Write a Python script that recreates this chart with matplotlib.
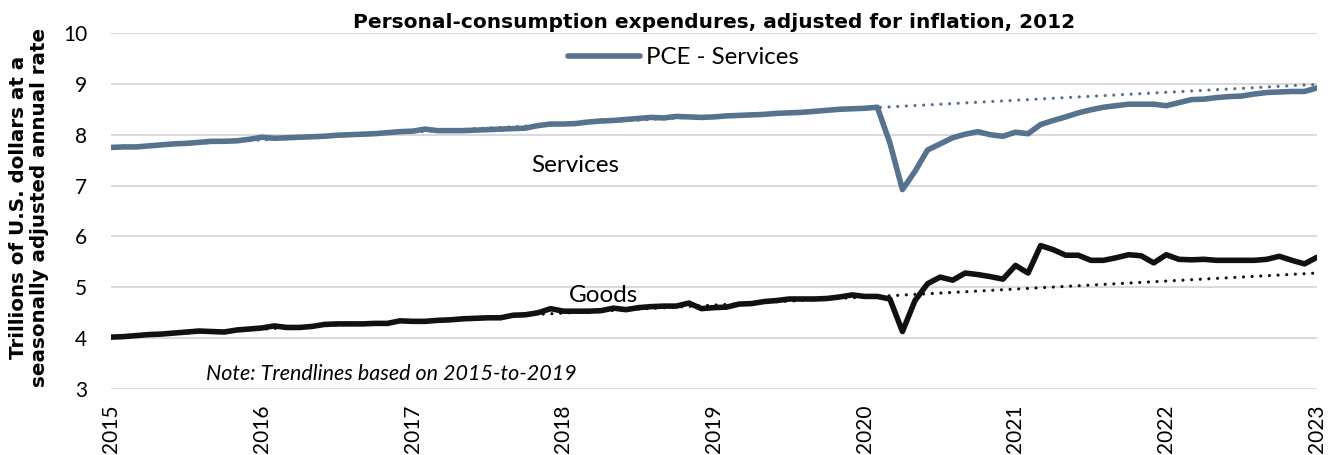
import numpy as np
import matplotlib
matplotlib.use("Agg")
import matplotlib.pyplot as plt

# monthly values, Jan 2015 .. Jan 2023 (trillions, chained 2012 $)
services = [7.75, 7.76, 7.76, 7.78, 7.80, 7.82, 7.83, 7.85, 7.87, 7.87, 7.88, 7.91,
            7.95, 7.93, 7.94, 7.95, 7.96, 7.97, 7.99, 8.00, 8.01, 8.02, 8.04, 8.06,
            8.07, 8.11, 8.08, 8.08, 8.08, 8.09, 8.10, 8.11, 8.12, 8.13, 8.18, 8.21,
            8.21, 8.22, 8.25, 8.27, 8.28, 8.30, 8.32, 8.34, 8.33, 8.36, 8.35, 8.34,
            8.35, 8.37, 8.38, 8.39, 8.40, 8.42, 8.43, 8.44, 8.46, 8.48, 8.50, 8.51,
            8.52, 8.54, 7.84, 6.92, 7.28, 7.70, 7.82, 7.94, 8.01, 8.06, 8.00, 7.97,
            8.05, 8.02, 8.20, 8.28, 8.35, 8.43, 8.49, 8.54, 8.57, 8.60, 8.60, 8.60,
            8.57, 8.63, 8.69, 8.70, 8.73, 8.75, 8.76, 8.80, 8.83, 8.84, 8.85, 8.85,
            8.92]
goods = [4.02, 4.03, 4.05, 4.07, 4.08, 4.10, 4.12, 4.14, 4.13, 4.12, 4.16, 4.18,
         4.20, 4.24, 4.21, 4.21, 4.23, 4.27, 4.28, 4.28, 4.28, 4.29, 4.29, 4.34,
         4.33, 4.33, 4.35, 4.36, 4.38, 4.39, 4.40, 4.40, 4.45, 4.46, 4.50, 4.58,
         4.53, 4.53, 4.53, 4.54, 4.59, 4.56, 4.60, 4.62, 4.63, 4.63, 4.69, 4.58,
         4.60, 4.61, 4.67, 4.68, 4.72, 4.74, 4.77, 4.77, 4.77, 4.78, 4.81, 4.85,
         4.82, 4.82, 4.77, 4.13, 4.74, 5.07, 5.20, 5.14, 5.28, 5.25, 5.21, 5.16,
         5.43, 5.28, 5.82, 5.74, 5.63, 5.63, 5.53, 5.53, 5.58, 5.64, 5.62, 5.48,
         5.64, 5.55, 5.54, 5.55, 5.53, 5.53, 5.53, 5.53, 5.55, 5.61, 5.53, 5.46,
         5.59]
trend_years = [2015, 2023]
services_trend = [7.74, 8.99]
goods_trend = [4.02, 5.28]
years = list(range(2015, 2024))

x = 2015 + np.arange(len(services)) / 12.0

svc_color = "#56728E"
gds_color = "#111111"
dots = (0, (0.01, 2.7))
plt.rcParams["font.family"] = ["Lato", "DejaVu Sans"]

fig = plt.figure(figsize=(13.3, 4.55), dpi=100)
ax = fig.add_axes([111 / 1330, 66 / 455, 1206 / 1330, 356 / 455])

ax.plot(trend_years, services_trend, color=svc_color, lw=2.3, ls=dots,
        dash_capstyle="round", zorder=2)
ax.plot(trend_years, goods_trend, color=gds_color, lw=2.3, ls=dots,
        dash_capstyle="round", zorder=2)
ax.plot(x, services, color=svc_color, lw=4, label="PCE - Services",
        solid_capstyle="round", zorder=3)
ax.plot(x, goods, color=gds_color, lw=4, solid_capstyle="round", zorder=3)

ax.set_xlim(2015, 2023)
ax.set_ylim(3, 10)
ax.set_yticks(range(3, 11))
ax.set_xticks(years)
ax.set_xticklabels([str(y) for y in years], rotation=90)
ax.tick_params(axis="both", labelsize=15, length=0)
ax.tick_params(axis="y", pad=17)
ax.tick_params(axis="x", pad=11)
ax.grid(axis="y", color="#D9D9DE", lw=1.5)
ax.set_axisbelow(True)
for s in ax.spines.values():
    s.set_visible(False)

ax.text(2018.08, 7.26, "Services", ha="center", va="baseline", fontsize=17.5)
ax.text(2018.27, 4.71, "Goods", ha="center", va="baseline", fontsize=17.5)
ax.text(2016.86, 3.18, "Note: Trendlines based on 2015-to-2019", ha="center",
        va="baseline", fontsize=15.5, style="italic")

fig.text(714 / 1330, 1 - 28 / 455,
         "Personal-consumption expendures, adjusted for inflation, 2012",
         ha="center", va="baseline", fontsize=14.5, fontweight="bold",
         family="DejaVu Sans")
fig.text(29 / 1330, 0.545, "Trillions of U.S. dollars at a\nseasonally adjusted annual rate",
         ha="center", va="center", rotation=90, fontsize=14.3, fontweight="bold",
         family="DejaVu Sans", linespacing=1.12)

ax.legend(loc="center", bbox_to_anchor=(683 / 1330, 1 - 58 / 455),
          bbox_transform=fig.transFigure, frameon=False, fontsize=17.3,
          handlelength=3.0, handletextpad=0.25)

fig.savefig("out.png", dpi=100)
